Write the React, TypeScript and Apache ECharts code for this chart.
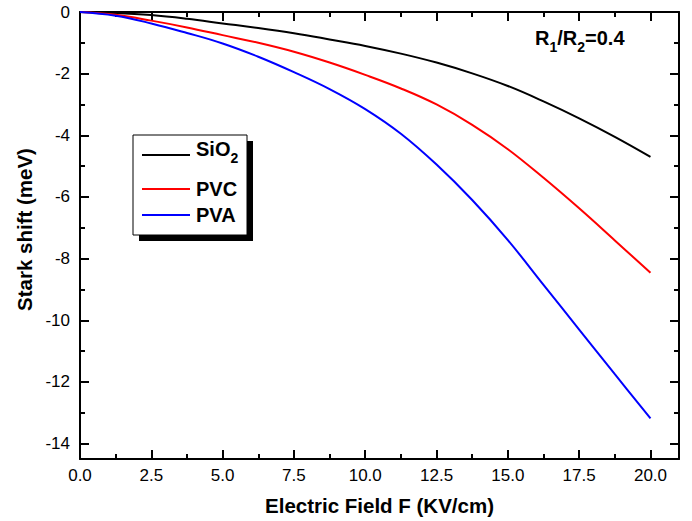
import React, { useEffect, useRef } from "react";
import * as echarts from "echarts";

const fieldValues = [0, 1.25, 2.5, 3.75, 5, 6.25, 7.5, 8.75, 10, 11.25, 12.5, 13.75, 15, 16.25, 17.5, 18.75, 20];
const sio2Shift = [0, -0.03, -0.1, -0.22, -0.37, -0.52, -0.69, -0.89, -1.1, -1.35, -1.64, -1.99, -2.4, -2.9, -3.45, -4.05, -4.7];
const pvcShift = [0, -0.09, -0.28, -0.5, -0.75, -1.0, -1.29, -1.64, -2.04, -2.48, -3.0, -3.66, -4.45, -5.38, -6.37, -7.41, -8.46];
const pvaShift = [0, -0.12, -0.37, -0.68, -1.02, -1.45, -1.95, -2.5, -3.15, -3.95, -4.95, -6.1, -7.4, -8.85, -10.3, -11.75, -13.18];

const seriesNames = ["SiO2", "PVC", "PVA"];
const seriesColors = ["#000000", "#ff0000", "#0000ff"];

const xMajorTicks = [0, 2.5, 5, 7.5, 10, 12.5, 15, 17.5, 20];
const xMinorTicks = [1.25, 3.75, 6.25, 8.75, 11.25, 13.75, 16.25, 18.75];
const yMajorTicks = [0, -2, -4, -6, -8, -10, -12, -14];
const yMinorTicks = [-1, -3, -5, -7, -9, -11, -13];

const xTitle = "Electric Field F (KV/cm)";
const yTitle = "Stark shift (meV)";

const FONT = "Liberation Sans, Arial, sans-serif";

export default function App() {
  const ref = useRef<HTMLDivElement>(null);

  useEffect(() => {
    if (!ref.current) return;
    const chart = echarts.init(ref.current, null, { renderer: "svg" });

    const line = { color: "#000", width: 2 };
    const xAxisBase = (position: string, ticks: number[], len: number, main: boolean, labels: boolean) => ({
      type: "value",
      min: 0,
      max: 21,
      position,
      gridIndex: 0,
      axisLine: { show: main, onZero: false, lineStyle: line },
      axisTick: { show: true, inside: true, length: len, customValues: ticks, lineStyle: { color: "#000", width: 2 } },
      axisLabel: labels
        ? {
            show: true,
            customValues: ticks,
            formatter: (v: number) => v.toFixed(1),
            fontSize: 17,
            color: "#000",
            fontFamily: FONT,
            margin: 8,
          }
        : { show: false },
      splitLine: { show: false },
      ...(labels
        ? {
            name: xTitle,
            nameLocation: "middle",
            nameGap: 36,
            nameTextStyle: { fontSize: 20.5, fontWeight: "bold", color: "#000", fontFamily: FONT },
          }
        : {}),
    });
    const yAxisBase = (position: string, ticks: number[], len: number, main: boolean, labels: boolean) => ({
      type: "value",
      min: -14.5,
      max: 0,
      position,
      gridIndex: 0,
      axisLine: { show: main, onZero: false, lineStyle: line },
      axisTick: { show: true, inside: true, length: len, customValues: ticks, lineStyle: { color: "#000", width: 2 } },
      axisLabel: labels
        ? {
            show: true,
            customValues: ticks,
            formatter: (v: number) => String(v),
            fontSize: 17,
            color: "#000",
            fontFamily: FONT,
            margin: 10,
          }
        : { show: false },
      splitLine: { show: false },
      ...(labels
        ? {
            name: yTitle,
            nameLocation: "middle",
            nameGap: 38,
            nameTextStyle: {
              fontSize: 20.5,
              fontWeight: "bold",
              color: "#000",
              fontFamily: FONT,
              padding: [0, 0, 0, 12],
            },
          }
        : {}),
    });

    const seriesData = [sio2Shift, pvcShift, pvaShift];

    const subRich = {
      a: { fontSize: 20, fontWeight: "bold", fontFamily: FONT, fill: "#000", color: "#000", lineHeight: 20 },
      s: { fontSize: 14, fontWeight: "bold", fontFamily: FONT, fill: "#000", color: "#000", lineHeight: 14, padding: [18, 0, 0, 0] },
    };

    const legendY = [155, 189, 215];
    const legendGraphics: any[] = [
      { type: "rect", shape: { x: 139, y: 141, width: 114, height: 100 }, style: { fill: "#000" }, z: 100 },
      { type: "rect", shape: { x: 133, y: 135, width: 114, height: 100 }, style: { fill: "#fff", stroke: "#000", lineWidth: 1 }, z: 101 },
    ];
    seriesNames.forEach((name, i) => {
      legendGraphics.push({
        type: "line",
        shape: { x1: 142, y1: legendY[i], x2: 190, y2: legendY[i] },
        style: { stroke: seriesColors[i], lineWidth: 2 },
        z: 102,
      });
      if (name === "SiO2") {
        legendGraphics.push({
          type: "text",
          x: 196,
          y: legendY[i] - 16,
          z: 102,
          style: { text: "{a|SiO}{s|2}", rich: subRich, align: "left", verticalAlign: "top" },
        });
      } else {
        legendGraphics.push({
          type: "text",
          x: 196,
          y: legendY[i],
          z: 102,
          style: {
            text: name,
            fontSize: 20,
            fontWeight: "bold",
            fontFamily: FONT,
            fill: "#000",
            align: "left",
            verticalAlign: "middle",
          },
        });
      }
    });

    chart.setOption({
      animation: false,
      backgroundColor: "#fff",
      grid: { left: 80, right: 13, top: 12, bottom: 62, containLabel: false },
      xAxis: [
        xAxisBase("bottom", xMajorTicks, 9, true, true),
        xAxisBase("bottom", xMinorTicks, 5, false, false),
        xAxisBase("top", xMajorTicks, 9, true, false),
        xAxisBase("top", xMinorTicks, 5, false, false),
      ],
      yAxis: [
        yAxisBase("left", yMajorTicks, 9, true, true),
        yAxisBase("left", yMinorTicks, 5, false, false),
        yAxisBase("right", yMajorTicks, 9, true, false),
        yAxisBase("right", yMinorTicks, 5, false, false),
      ],
      series: seriesNames.map((name, i) => ({
        name,
        type: "line",
        xAxisIndex: 0,
        yAxisIndex: 0,
        data: fieldValues.map((x, j) => [x, seriesData[i][j]]),
        showSymbol: false,
        smooth: 0.4,
        lineStyle: { color: seriesColors[i], width: 2 },
        itemStyle: { color: seriesColors[i] },
        z: 5,
      })),
      graphic: [
        ...legendGraphics,
        {
          type: "text",
          x: 535,
          y: 28,
          z: 102,
          style: { text: "{a|R}{s|1}{a|/R}{s|2}{a|=0.4}", rich: subRich, align: "left", verticalAlign: "top" },
        },
      ],
    });

    return () => chart.dispose();
  }, []);

  return (
    <div
      ref={ref}
      style={{ position: "fixed", left: 0, top: 0, width: 692, height: 521, background: "#fff" }}
    />
  );
}
